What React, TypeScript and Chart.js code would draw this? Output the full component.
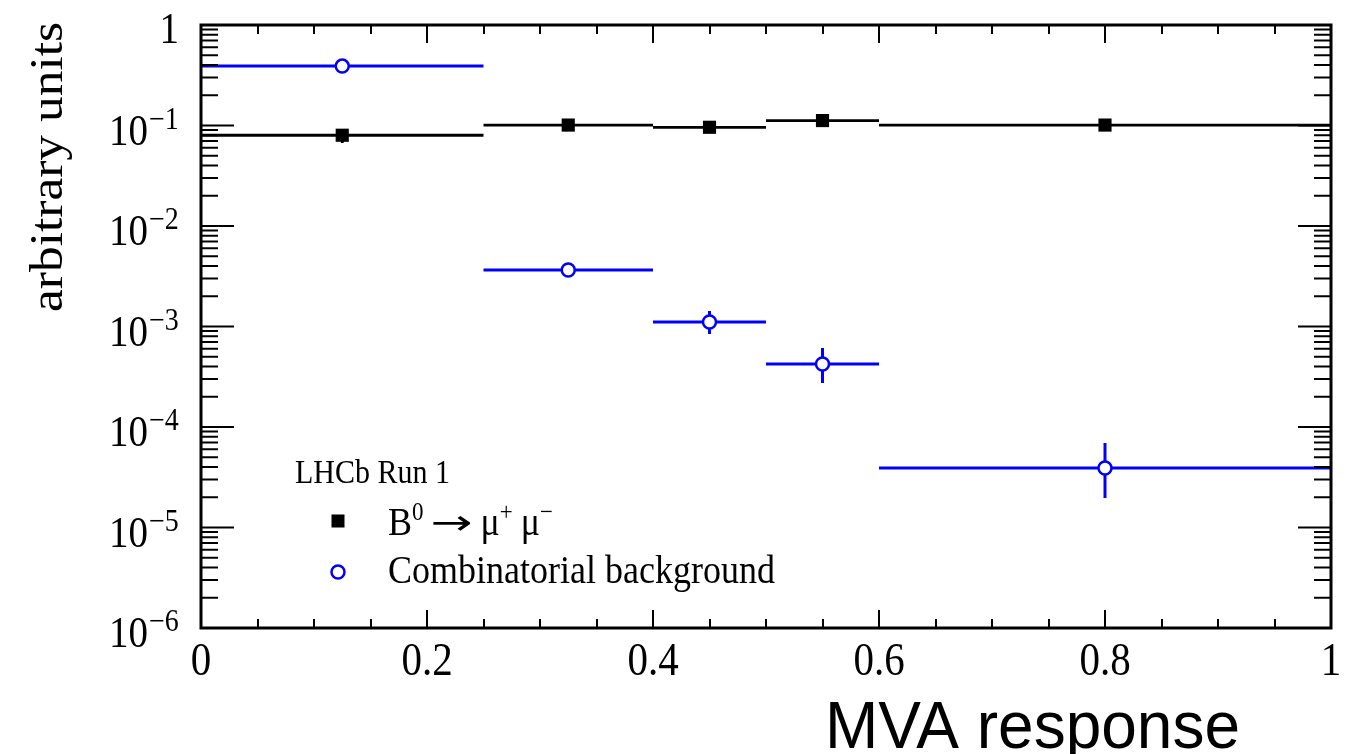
import React, { useEffect, useRef } from "react";
import { Chart, registerables } from "chart.js";

Chart.register(...registerables);

// ---------- data ----------
const binLo = [0, 0.25, 0.4, 0.5, 0.6];
const binHi = [0.25, 0.4, 0.5, 0.6, 1.0];
const binCenter = [0.125, 0.325, 0.45, 0.55, 0.8];

const signalValues = [0.08, 0.101, 0.096, 0.112, 0.101];
const signalErrLo = [0.067, 0.097, 0.092, 0.108, 0.098];
const signalErrHi = [0.09, 0.105, 0.1, 0.116, 0.104];

const bkgValues = [0.39, 0.00365, 0.00111, 0.000424, 0.0000391];
const bkgErrLo = [0.38, 0.0033, 0.00084, 0.000274, 0.0000197];
const bkgErrHi = [0.4, 0.004, 0.00143, 0.00061, 0.0000693];

const xTickLabels = ["0", "0.2", "0.4", "0.6", "0.8", "1"];
const xTickValues = [0, 0.2, 0.4, 0.6, 0.8, 1];
const yDecades = [0, -1, -2, -3, -4, -5, -6];

const legendHeader = "LHCb Run 1";
const legendNames = ["signal", "background"];
const xTitle = "MVA response";
const yTitle = "arbitrary units";

const BLUE = "#0000ff";
const BLACK = "#000000";

// ---------- helpers ----------
function hBars(values: number[]) {
  const pts: { x: number; y: number | null }[] = [];
  values.forEach((v, i) => {
    pts.push({ x: binLo[i], y: v });
    pts.push({ x: binHi[i], y: v });
    pts.push({ x: binHi[i], y: null });
  });
  return pts;
}
function vBars(lo: number[], hi: number[]) {
  const pts: { x: number; y: number | null }[] = [];
  lo.forEach((l, i) => {
    pts.push({ x: binCenter[i], y: l });
    pts.push({ x: binCenter[i], y: hi[i] });
    pts.push({ x: binCenter[i], y: null });
  });
  return pts;
}
function marks(values: number[]) {
  return values.map((v, i) => ({ x: binCenter[i], y: v }));
}

function txt(
  ctx: CanvasRenderingContext2D,
  s: string,
  x: number,
  y: number,
  font: string,
  align: CanvasTextAlign,
  sx = 1,
  sy = 1
) {
  ctx.save();
  ctx.translate(x, y);
  ctx.scale(sx, sy);
  ctx.font = font;
  ctx.textAlign = align;
  ctx.textBaseline = "alphabetic";
  ctx.fillStyle = "#000";
  ctx.fillText(s, 0, 0);
  ctx.restore();
}

const SERIF = '"Liberation Serif", "Times New Roman", serif';
const SANS = '"Liberation Sans", Helvetica, Arial, sans-serif';
const SY = 1.12;

const decorPlugin = {
  id: "rootDecor",
  afterDatasetsDraw(chart: any) {
    const ctx: CanvasRenderingContext2D = chart.ctx;
    const xs = chart.scales.x;
    const ys = chart.scales.y;
    const { left, right, top, bottom } = chart.chartArea;
    ctx.save();
    ctx.strokeStyle = "#000";
    ctx.lineCap = "butt";

    // x ticks
    ctx.lineWidth = 2;
    for (let k = 0; k <= 20; k++) {
      const v = k / 20;
      const px = Math.round(xs.getPixelForValue(v));
      const len = k % 4 === 0 ? 18 : 9;
      ctx.beginPath();
      ctx.moveTo(px, bottom);
      ctx.lineTo(px, bottom - len);
      ctx.moveTo(px, top);
      ctx.lineTo(px, top + len);
      ctx.stroke();
    }
    // y ticks
    for (const d of yDecades) {
      const py = ys.getPixelForValue(Math.pow(10, d));
      ctx.beginPath();
      ctx.moveTo(left, py);
      ctx.lineTo(left + 33, py);
      ctx.moveTo(right, py);
      ctx.lineTo(right - 33, py);
      ctx.stroke();
      if (d < 0) {
        for (let m = 2; m <= 9; m++) {
          const pm = ys.getPixelForValue(m * Math.pow(10, d));
          ctx.beginPath();
          ctx.moveTo(left, pm);
          ctx.lineTo(left + 17, pm);
          ctx.moveTo(right, pm);
          ctx.lineTo(right - 17, pm);
          ctx.stroke();
        }
      }
    }
    // frame
    ctx.lineWidth = 3;
    ctx.strokeRect(left, top, right - left, bottom - top);
    ctx.restore();

    // x tick labels
    xTickValues.forEach((v, i) => {
      txt(ctx, xTickLabels[i], xs.getPixelForValue(v), 675, `41px ${SERIF}`, "center", 1, SY);
    });
    // y tick labels
    for (const d of yDecades) {
      const py = ys.getPixelForValue(Math.pow(10, d));
      if (d === 0) {
        txt(ctx, "1", 179, py + 18, `39px ${SERIF}`, "right", 1, SY);
      } else {
        txt(ctx, "10", 148, py + 19, `39px ${SERIF}`, "right", 1, SY);
        txt(ctx, "\u2212" + String(-d), 149, py + 3, `28px ${SERIF}`, "left", 1, SY);
      }
    }

    // axis titles
    const yFont = `46px ${SERIF}`;
    ctx.save();
    ctx.font = yFont;
    const wT = ctx.measureText(yTitle).width;
    ctx.restore();
    const lenTarget = 290;
    ctx.save();
    ctx.translate(62, 312);
    ctx.rotate(-Math.PI / 2);
    ctx.scale(lenTarget / wT, 1);
    ctx.font = yFont;
    ctx.fillStyle = "#000";
    ctx.textAlign = "left";
    ctx.fillText(yTitle, 0, 0);
    ctx.restore();

    txt(ctx, xTitle, 825, 748, `64px ${SANS}`, "left", 1, 1.04);

    // legend
    txt(ctx, legendHeader, 295, 483, `30px ${SERIF}`, "left", 1, SY);
    legendNames.forEach((name, i) => {
      const my = i === 0 ? 521 : 572;
      const base = i === 0 ? 535 : 583;
      ctx.save();
      if (name === "signal") {
        ctx.fillStyle = BLACK;
        ctx.fillRect(338 - 6.5, my - 6.5, 13, 13);
      } else {
        ctx.strokeStyle = BLUE;
        ctx.lineWidth = 2.5;
        ctx.fillStyle = "#fff";
        ctx.beginPath();
        ctx.arc(338, my, 6.5, 0, Math.PI * 2);
        ctx.fill();
        ctx.stroke();
      }
      ctx.restore();
      if (name === "signal") {
        const font = `36px ${SERIF}`;
        const supFont = `23px ${SERIF}`;
        let x = 388;
        const put = (t: string, f: string, yb: number, gap = 0) => {
          ctx.save();
          ctx.font = f;
          const w = ctx.measureText(t).width;
          ctx.restore();
          txt(ctx, t, x, yb, f, "left", 1, SY);
          x += w + gap;
        };
        put("B", font, base);
        put("0", supFont, base - 15, 4);
        // long arrow glyph, scaled to the reference width
        const aFont = `34px "DejaVu Sans", sans-serif`;
        ctx.save();
        ctx.font = aFont;
        const aw = ctx.measureText("\u2192").width;
        ctx.restore();
        txt(ctx, "\u2192", x + 3, base - 1, aFont, "left", 42 / aw, 1);
        x += 3 + 42 + 8;
        put("\u03bc", font, base);
        put("+", supFont, base - 15, 8);
        put("\u03bc", font, base);
        put("\u2212", supFont, base - 15);
      } else {
        txt(ctx, "Combinatorial background", 388, base, `36px ${SERIF}`, "left", 1, SY);
      }
    });
  },
};

export default function App() {
  const ref = useRef<HTMLCanvasElement | null>(null);
  useEffect(() => {
    if (!ref.current) return;
    const chart = new Chart(ref.current, {
      type: "scatter",
      data: {
        datasets: [
          {
            label: "bkg markers",
            data: marks(bkgValues),
            pointStyle: "circle",
            pointRadius: 6.5,
            pointBorderWidth: 2.5,
            pointBackgroundColor: "#ffffff",
            pointBorderColor: BLUE,
            showLine: false,
            order: 0,
          },
          {
            label: "sig markers",
            data: marks(signalValues),
            pointStyle: "rect",
            pointRadius: 9.3,
            pointBorderWidth: 0,
            pointBackgroundColor: BLACK,
            pointBorderColor: BLACK,
            showLine: false,
            order: 1,
          },
          {
            label: "bkg xerr",
            data: hBars(bkgValues),
            showLine: true,
            spanGaps: false,
            borderColor: BLUE,
            borderWidth: 3,
            pointRadius: 0,
            order: 2,
          },
          {
            label: "bkg yerr",
            data: vBars(bkgErrLo, bkgErrHi),
            showLine: true,
            spanGaps: false,
            borderColor: BLUE,
            borderWidth: 3,
            pointRadius: 0,
            order: 2,
          },
          {
            label: "sig xerr",
            data: hBars(signalValues),
            showLine: true,
            spanGaps: false,
            borderColor: BLACK,
            borderWidth: 2.8,
            pointRadius: 0,
            order: 3,
          },
          {
            label: "sig yerr",
            data: vBars(signalErrLo, signalErrHi),
            showLine: true,
            spanGaps: false,
            borderColor: BLACK,
            borderWidth: 2.8,
            pointRadius: 0,
            order: 3,
          },
        ],
      },
      options: {
        animation: false,
        responsive: false,
        devicePixelRatio: 1,
        events: [],
        layout: { padding: { left: 201, right: 25, top: 25, bottom: 126 } },
        plugins: { legend: { display: false }, tooltip: { enabled: false } },
        scales: {
          x: { type: "linear", min: 0, max: 1, display: false },
          y: { type: "logarithmic", min: 1e-6, max: 1, display: false },
        },
      },
      plugins: [decorPlugin],
    });
    return () => chart.destroy();
  }, []);
  return (
    <div style={{ position: "absolute", left: 0, top: 0, width: 1356, height: 754, background: "#fff" }}>
      <canvas ref={ref} width={1356} height={754} style={{ width: 1356, height: 754, display: "block" }} />
    </div>
  );
}
